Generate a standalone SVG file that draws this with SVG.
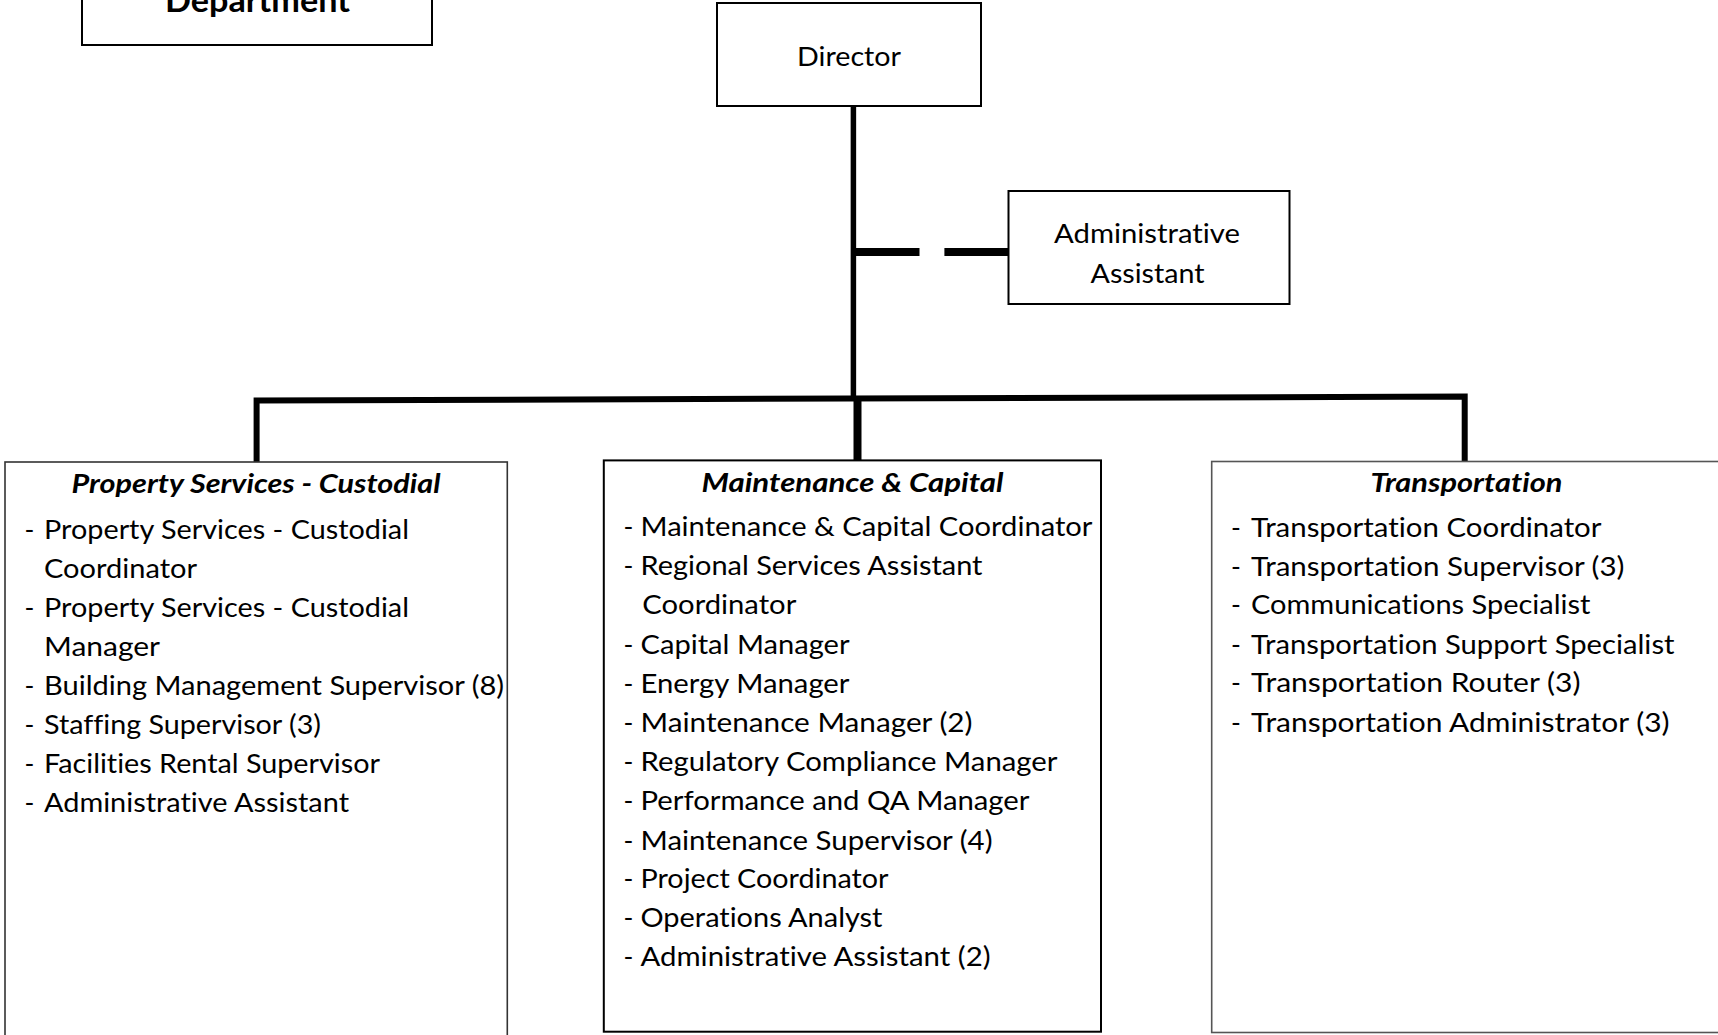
<svg xmlns="http://www.w3.org/2000/svg" width="1718" height="1035" viewBox="0 0 1718 1035">
<style>
.bg{fill:#ffffff}
.box{fill:#ffffff;stroke:#000000;stroke-width:2}
.t{font-family:Lato,"Open Sans","Liberation Sans",sans-serif;font-size:26.5px;fill:#000000;font-variant-ligatures:none;font-feature-settings:"liga" 0,"clig" 0,"dlig" 0}
.h{font-family:Lato,"Open Sans","Liberation Sans",sans-serif;font-size:26.5px;font-weight:bold;font-style:italic;fill:#000000;font-variant-ligatures:none;font-feature-settings:"liga" 0,"clig" 0,"dlig" 0}
.b{font-family:Lato,"Open Sans","Liberation Sans",sans-serif;font-size:32px;font-weight:bold;fill:#000000;font-variant-ligatures:none}
.ln{fill:none;stroke:#000000;stroke-linejoin:miter;stroke-linecap:butt}
</style>
<rect class="bg" x="0" y="0" width="1718" height="1035"/>
<g id="connectors">
<path class="ln" d="M853.4,106 V399" stroke-width="5.5"/>
<path class="ln" d="M853,252 H919.5 M944.4,252 H1009" stroke-width="8"/>
<path class="ln" d="M256.6,462 V400.5 L1464.7,396.5 V461.5" stroke-width="6"/>
<path class="ln" d="M857.5,398 V460.4" stroke-width="8"/>
</g>
<g id="department">
<rect class="box" x="82" y="-40" width="350" height="85" stroke-width="2.5"/>
<text class="b" x="165" y="11.5" textLength="185" lengthAdjust="spacingAndGlyphs">Department</text>
</g>
<g id="director">
<rect class="box" x="717" y="3" width="264" height="103"/>
<text class="t" x="797" y="65.7" textLength="104" lengthAdjust="spacingAndGlyphs">Director</text>
</g>
<g id="admin-assistant">
<rect class="box" x="1008.5" y="191" width="281" height="113"/>
<text class="t" x="1054" y="243.3" textLength="186" lengthAdjust="spacingAndGlyphs">Administrative</text>
<text class="t" x="1090.5" y="283.3" textLength="114" lengthAdjust="spacingAndGlyphs">Assistant</text>
</g>
<g id="property-services">
<rect x="5" y="462" width="502.3" height="600" fill="#ffffff" stroke="#333333" stroke-width="1.6"/>
<text class="h" x="71.5" y="493.3" textLength="369" lengthAdjust="spacingAndGlyphs">Property Services - Custodial</text>
<g class="t">
<text x="24.5" y="539">-</text>
<text x="44" y="539" textLength="365" lengthAdjust="spacingAndGlyphs">Property Services - Custodial</text>
<text x="44" y="578" textLength="153" lengthAdjust="spacingAndGlyphs">Coordinator</text>
<text x="24.5" y="617">-</text>
<text x="44" y="617" textLength="365" lengthAdjust="spacingAndGlyphs">Property Services - Custodial</text>
<text x="44" y="656" textLength="116" lengthAdjust="spacingAndGlyphs">Manager</text>
<text x="24.5" y="695">-</text>
<text x="44" y="695" textLength="460" lengthAdjust="spacingAndGlyphs">Building Management Supervisor (8)</text>
<text x="24.5" y="734">-</text>
<text x="44" y="734" textLength="277" lengthAdjust="spacingAndGlyphs">Staffing Supervisor (3)</text>
<text x="24.5" y="773">-</text>
<text x="44" y="773" textLength="336" lengthAdjust="spacingAndGlyphs">Facilities Rental Supervisor</text>
<text x="24.5" y="812">-</text>
<text x="44" y="812" textLength="305" lengthAdjust="spacingAndGlyphs">Administrative Assistant</text>
</g>
</g>
<g id="maintenance-capital">
<rect class="box" x="603.8" y="460.4" width="497.2" height="571.3"/>
<text class="h" x="701.5" y="492.1" textLength="302" lengthAdjust="spacingAndGlyphs">Maintenance &amp; Capital</text>
<g class="t">
<text x="623.5" y="536">-</text>
<text x="640.5" y="536" textLength="452" lengthAdjust="spacingAndGlyphs">Maintenance &amp; Capital Coordinator</text>
<text x="623.5" y="575">-</text>
<text x="640.5" y="575" textLength="342" lengthAdjust="spacingAndGlyphs">Regional Services Assistant</text>
<text x="642.3" y="614" textLength="154" lengthAdjust="spacingAndGlyphs">Coordinator</text>
<text x="623.5" y="654">-</text>
<text x="640.5" y="654" textLength="209" lengthAdjust="spacingAndGlyphs">Capital Manager</text>
<text x="623.5" y="693">-</text>
<text x="640.5" y="693" textLength="209" lengthAdjust="spacingAndGlyphs">Energy Manager</text>
<text x="623.5" y="732">-</text>
<text x="640.5" y="732" textLength="332" lengthAdjust="spacingAndGlyphs">Maintenance Manager (2)</text>
<text x="623.5" y="771">-</text>
<text x="640.5" y="771" textLength="417" lengthAdjust="spacingAndGlyphs">Regulatory Compliance Manager</text>
<text x="623.5" y="810">-</text>
<text x="640.5" y="810" textLength="389" lengthAdjust="spacingAndGlyphs">Performance and QA Manager</text>
<text x="623.5" y="849.5">-</text>
<text x="640.5" y="849.5" textLength="352" lengthAdjust="spacingAndGlyphs">Maintenance Supervisor (4)</text>
<text x="623.5" y="888">-</text>
<text x="640.5" y="888" textLength="248" lengthAdjust="spacingAndGlyphs">Project Coordinator</text>
<text x="623.5" y="927">-</text>
<text x="640.5" y="927" textLength="242" lengthAdjust="spacingAndGlyphs">Operations Analyst</text>
<text x="623.5" y="966">-</text>
<text x="640.5" y="966" textLength="350" lengthAdjust="spacingAndGlyphs">Administrative Assistant (2)</text>
</g>
</g>
<g id="transportation">
<rect x="1211.7" y="461.5" width="540" height="571" fill="#ffffff" stroke="#555555" stroke-width="1.6"/>
<text class="h" x="1370.5" y="491.7" textLength="192" lengthAdjust="spacingAndGlyphs">Transportation</text>
<g class="t">
<text x="1231" y="536.5">-</text>
<text x="1251" y="536.5" textLength="350.5" lengthAdjust="spacingAndGlyphs">Transportation Coordinator</text>
<text x="1231" y="576">-</text>
<text x="1251" y="576" textLength="373.5" lengthAdjust="spacingAndGlyphs">Transportation Supervisor (3)</text>
<text x="1231" y="614.3">-</text>
<text x="1251" y="614.3" textLength="339.5" lengthAdjust="spacingAndGlyphs">Communications Specialist</text>
<text x="1231" y="653.5">-</text>
<text x="1251" y="653.5" textLength="423.5" lengthAdjust="spacingAndGlyphs">Transportation Support Specialist</text>
<text x="1231" y="692.3">-</text>
<text x="1251" y="692.3" textLength="329.5" lengthAdjust="spacingAndGlyphs">Transportation Router (3)</text>
<text x="1231" y="731.7">-</text>
<text x="1251" y="731.7" textLength="418.5" lengthAdjust="spacingAndGlyphs">Transportation Administrator (3)</text>
</g>
</g>
</svg>
